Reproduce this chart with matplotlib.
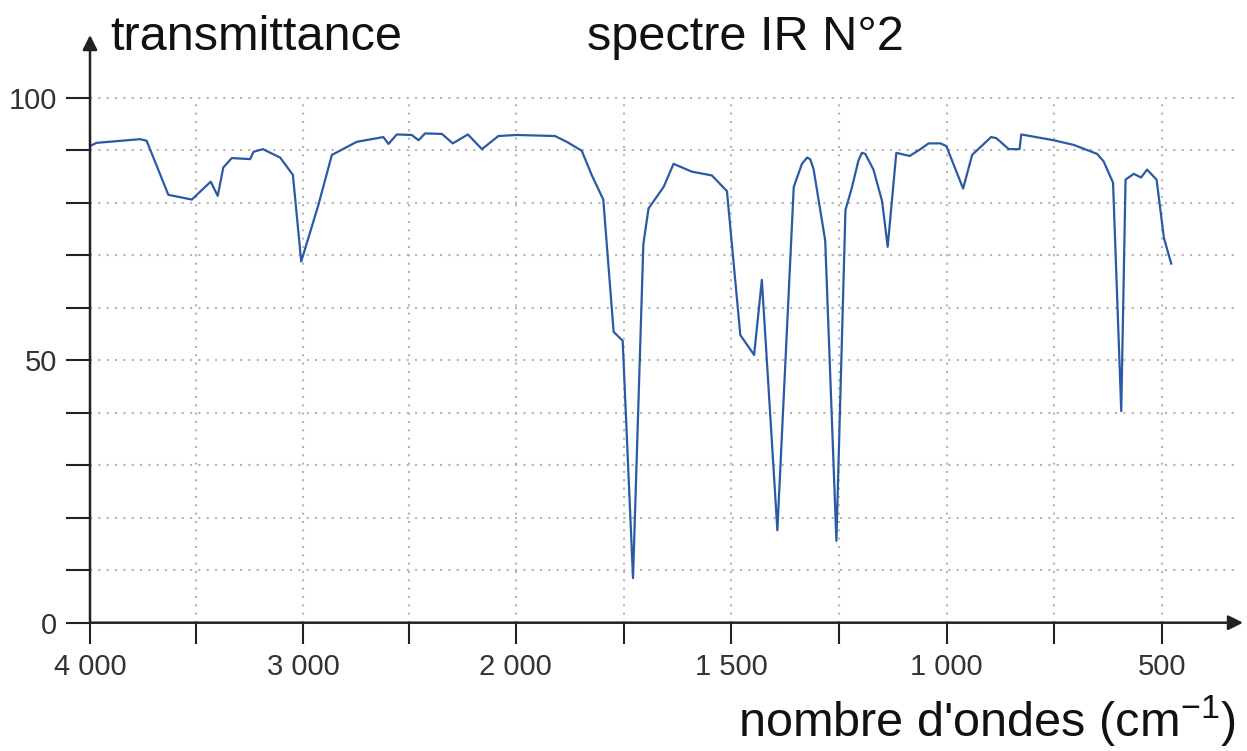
import numpy as np
import matplotlib.pyplot as plt
from matplotlib.ticker import FixedLocator, FuncFormatter, NullFormatter

plt.rcParams.update({
    "font.family": "Liberation Sans",
    "mathtext.fontset": "custom",
    "mathtext.rm": "Liberation Sans",
    "mathtext.it": "Liberation Sans:italic",
})

# IR spectrum (wavenumber in cm-1, transmittance in %)
wavenumber = [
    4000, 3969, 3765, 3734, 3632, 3522, 3433, 3400, 3374, 3334, 3248, 3232,
    3188, 3107, 3047, 3008, 2927, 2864, 2747, 2622, 2598, 2559, 2489, 2457,
    2426, 2347, 2296, 2225, 2159, 2082, 1998, 1909, 1882, 1847, 1824, 1797,
    1773, 1752, 1728, 1704, 1692, 1657, 1634, 1591, 1545, 1510, 1479, 1447,
    1429, 1393, 1355, 1336, 1324, 1317, 1309, 1282, 1256, 1235, 1220, 1205,
    1197, 1189, 1170, 1150, 1137, 1117, 1086, 1061, 1042, 1015, 1001, 962,
    941, 897, 885, 856, 831, 827, 752, 705, 651, 636, 614, 595, 585, 566,
    549, 535, 513, 496, 479,
]
transmittance = [
    90.8, 91.4, 92.1, 91.8, 81.5, 80.6, 84.0, 81.3, 86.7, 88.5, 88.3, 89.7,
    90.2, 88.6, 85.3, 68.8, 79.6, 89.1, 91.6, 92.5, 91.2, 93.0, 92.9, 91.9,
    93.2, 93.1, 91.3, 93.0, 90.2, 92.7, 92.9, 92.7, 91.6, 89.9, 85.3, 80.6,
    55.4, 53.7, 8.5, 72.1, 78.9, 83.0, 87.4, 85.9, 85.2, 82.2, 54.8, 51.0,
    65.3, 17.6, 83.0, 87.4, 88.6, 88.3, 86.4, 72.8, 15.6, 78.6, 82.9, 88.0,
    89.5, 89.3, 86.3, 80.3, 71.6, 89.5, 88.9, 90.2, 91.3, 91.3, 90.8, 82.7,
    89.1, 92.5, 92.3, 90.2, 90.2, 93.0, 91.9, 91.0, 89.3, 87.9, 83.8, 40.3,
    84.4, 85.5, 84.8, 86.3, 84.4, 73.3, 68.4,
]

x_major = [4000, 3000, 2000, 1500, 1000, 500]
x_minor = [3500, 2500, 1750, 1250, 750]
y_major = [0, 50, 100]
y_minor = [10, 20, 30, 40, 60, 70, 80, 90]

K = 2.024  # the scale is stretched below 2000 cm-1, as on usual IR spectra


def fwd(x):
    x = np.asarray(x, dtype=float)
    return np.where(x >= 2000, x, 2000 - K * (2000 - x))


def inv(u):
    u = np.asarray(u, dtype=float)
    return np.where(u >= 2000, u, 2000 - (2000 - u) / K)


W, H = 1247, 751
fig = plt.figure(figsize=(W / 100, H / 100), dpi=100)
ax = fig.add_axes([90 / W, (H - 622.7) / H, (1235 - 90) / W, (622.7 - 97.7) / H])

ax.set_xscale("function", functions=(fwd, inv))
ax.set_xlim(4000, 331)
ax.set_ylim(0, 100)

ax.plot(wavenumber, transmittance, color="#2a5aa6", lw=1.6, solid_joinstyle="round", zorder=3)

ax.xaxis.set_major_locator(FixedLocator(x_major))
ax.xaxis.set_minor_locator(FixedLocator(x_minor))
ax.xaxis.set_major_formatter(FuncFormatter(lambda v, p: f"{int(round(v)):,}".replace(",", " ")))
ax.xaxis.set_minor_formatter(NullFormatter())
ax.yaxis.set_major_locator(FixedLocator(y_major))
ax.yaxis.set_minor_locator(FixedLocator(y_minor))
ax.yaxis.set_major_formatter(FuncFormatter(lambda v, p: f"{int(v)}"))
ax.yaxis.set_minor_formatter(NullFormatter())

ax.tick_params(axis="x", which="both", direction="out", length=15, width=1.5,
               color="#222222", pad=7, labelsize=21, labelcolor="#333333")
ax.tick_params(axis="y", which="both", direction="out", length=17, width=1.5,
               color="#222222", pad=7, labelsize=21, labelcolor="#333333")

ax.grid(True, which="both", color="#b5b5b5", linestyle=(0, (1, 3)), linewidth=1.5)
for gl in ax.get_ygridlines():
    gl.set_clip_on(False)

for s in ax.spines.values():
    s.set_visible(False)

arrow = dict(arrowstyle="-|>", color="#222222", lw=1.8, shrinkA=0, shrinkB=0, mutation_scale=22)
ax.annotate("", xy=(1.007, 0), xytext=(0, 0), xycoords="axes fraction",
            textcoords="axes fraction", arrowprops=arrow, annotation_clip=False, zorder=5)
ax.annotate("", xy=(0, (622.7 - 35) / 525), xytext=(0, 0), xycoords="axes fraction",
            textcoords="axes fraction", arrowprops=arrow, annotation_clip=False, zorder=5)

fig.text(110 / W, 1 - 50 / H, "transmittance", fontsize=35, va="baseline", ha="left", color="#111111")
fig.text(587 / W, 1 - 50 / H, "spectre IR N°2", fontsize=35, va="baseline", ha="left", color="#111111")
fig.text(1235 / W, 1 - 737 / H, "nombre d'ondes (cm$^{-1}$)", fontsize=35,
         va="baseline", ha="right", color="#111111")

fig.savefig("out.png", dpi=100)
